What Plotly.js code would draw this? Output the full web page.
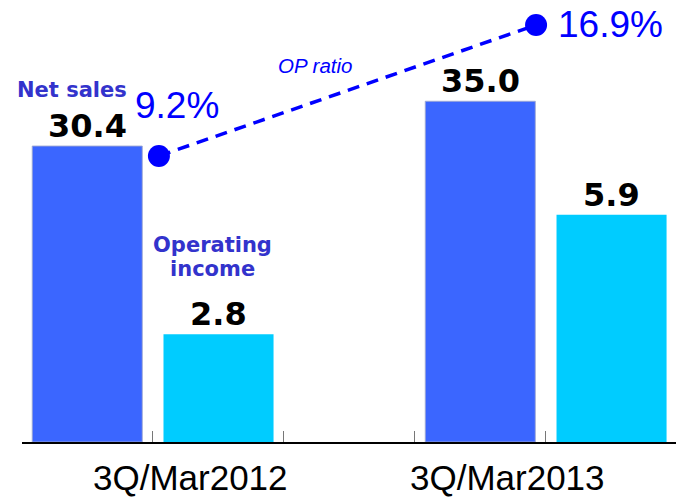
<!DOCTYPE html>
<html><head><meta charset="utf-8">
<script src="https://cdn.plot.ly/plotly-3.0.1.min.js"></script>
<style>html,body{margin:0;padding:0;background:#fff}#c{width:679px;height:499px}</style>
</head><body><div id="c"></div>
<script>
var categories = ['3Q/Mar2012', '3Q/Mar2013'];
var netSales = [30.4, 35.0];
var operatingIncome = [2.8, 5.9];
var opRatio = [9.2, 16.9];
var seriesNames = ['Net sales', 'Operating income', 'OP ratio'];

var blueBar = '#3B66FF', cyanBar = '#00CCFF', lineBlue = '#0000FF', labelBlue = '#3333CC';
var barW = 0.28, nsOff = -0.307, oiOff = 0.027, catPx = 393;

var traces = [
  {type:'bar', name:seriesNames[0], x:categories, y:netSales, xaxis:'x', yaxis:'y',
   width:barW, offset:nsOff, marker:{color:blueBar, line:{color:'rgba(160,170,210,0.9)', width:1}},
   hoverinfo:'skip'},
  {type:'bar', name:seriesNames[1], x:categories, y:operatingIncome, xaxis:'x', yaxis:'y2',
   width:barW, offset:oiOff, marker:{color:cyanBar, line:{width:0}}, hoverinfo:'skip'},
  {type:'scatter', name:seriesNames[2], x:categories, y:opRatio, xaxis:'x3', yaxis:'y3',
   mode:'lines+markers', line:{color:lineBlue, width:3.5, dash:'12px,8px'},
   marker:{color:lineBlue, size:22}, cliponaxis:false, hoverinfo:'skip'},
  {type:'scatter', x:[], y:[], xaxis:'x2', yaxis:'y', showlegend:false, hoverinfo:'skip'}
];

var annotations = [];
var valFont = {family:'DejaVu Sans', size:32, color:'#000', weight:'bold'};
categories.forEach(function(c, i){
  annotations.push({xref:'paper', yref:'paper', x:[0.258,0.743][i], y:-0.080, xanchor:'center', yanchor:'middle',
    text:c, showarrow:false, borderpad:0, font:{family:'Liberation Sans', size:35, color:'#000'}});
  annotations.push({xref:'x', yref:'y', x:c, y:netSales[i], xanchor:'center', yanchor:'bottom',
    xshift:(nsOff+barW/2)*catPx, yshift:-1, text:netSales[i].toFixed(1), showarrow:false, font:valFont});
  annotations.push({xref:'x', yref:'y2', x:c, y:operatingIncome[i], xanchor:'center', yanchor:'bottom',
    xshift:(oiOff+barW/2)*catPx, yshift:-1, text:operatingIncome[i].toFixed(1), showarrow:false, font:valFont});
});
opRatio.forEach(function(v, i){
  annotations.push({xref:'x3', yref:'y3', x:categories[i], y:v, xanchor:'center', yanchor:'middle',
    xshift:[18,74][i], yshift:[51,1][i], text:v.toFixed(1)+'%', showarrow:false,
    font:{family:'Liberation Sans', size:37, color:lineBlue}});
});
annotations.push({xref:'paper', yref:'paper', x:0.0765, y:0.796, xanchor:'center', yanchor:'middle',
  text:seriesNames[0], showarrow:false, font:{family:'DejaVu Sans', size:21, color:labelBlue, weight:'bold'}});
var oiWords = seriesNames[1].split(' ');
annotations.push({xref:'paper', yref:'paper', x:0.292, y:(442-245)/442, xanchor:'center', yanchor:'middle',
  text:oiWords[0], showarrow:false, font:{family:'DejaVu Sans', size:21, color:labelBlue, weight:'bold'}});
annotations.push({xref:'paper', yref:'paper', x:0.292, y:(442-269)/442, xanchor:'center', yanchor:'middle',
  text:oiWords[1], showarrow:false, font:{family:'DejaVu Sans', size:21, color:labelBlue, weight:'bold'}});
annotations.push({xref:'paper', yref:'paper', x:0.448, y:0.851, xanchor:'center', yanchor:'middle',
  text:'<i>'+seriesNames[2]+'</i>', showarrow:false, font:{family:'Liberation Sans', size:20.5, color:lineBlue}});

var layout = {
  width:679, height:499, margin:{l:22, r:3, t:0, b:57},
  paper_bgcolor:'#fff', plot_bgcolor:'#fff', showlegend:false,
  xaxis:{type:'category', range:[-0.333,1.331], showline:true, linecolor:'#000', linewidth:1.5,
         ticks:'', showticklabels:false, showgrid:false, zeroline:false, fixedrange:true},
  xaxis2:{overlaying:'x', range:[-0.5,4.5], tickmode:'array', tickvals:[-0.499,0.5,1.5,2.5,3.5,4.499],
          ticks:'inside', ticklen:11, tickcolor:'#777', tickwidth:1, showticklabels:false,
          showgrid:false, zeroline:false, showline:false, anchor:'y'},
  xaxis3:{overlaying:'x', type:'category', range:[-0.363,1.371], visible:false},
  yaxis:{range:[0,45.4], visible:false, showgrid:false, zeroline:false},
  yaxis2:{overlaying:'y', range:[0,11.48], visible:false, showgrid:false, zeroline:false},
  yaxis3:{overlaying:'y', range:[-7.61,18.37], visible:false, showgrid:false, zeroline:false},
  annotations:annotations
};
Plotly.newPlot('c', traces, layout, {staticPlot:true});
</script></body></html>
